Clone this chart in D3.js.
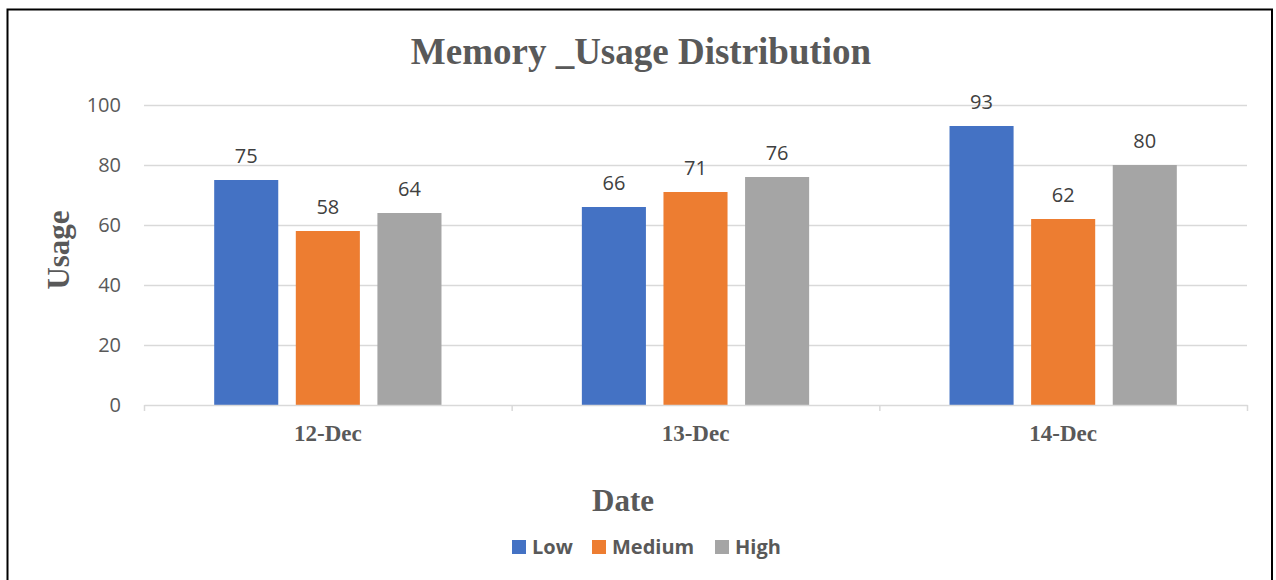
<!DOCTYPE html>
<html>
<head>
<meta charset="utf-8">
<script src="https://cdn.jsdelivr.net/npm/d3@7"></script>
<style>
  html, body { margin: 0; padding: 0; background: #fff; }
  svg { display: block; }
</style>
</head>
<body>
<svg id="chart" width="1276" height="580"></svg>
<script>
// Memory usage per day, split by level
const dates = ["12-Dec", "13-Dec", "14-Dec"];
const seriesNames = ["Low", "Medium", "High"];
const lowValues = [75, 66, 93];
const mediumValues = [58, 71, 62];
const highValues = [64, 76, 80];
const yTicks = [0, 20, 40, 60, 80, 100];
const colors = ["#4472C4", "#ED7D31", "#A5A5A5"];

const seriesValues = [lowValues, mediumValues, highValues];
const rows = dates.map((d, i) => ({
  date: d,
  values: seriesNames.map((s, j) => ({ key: s, value: seriesValues[j][i], color: colors[j] }))
}));

const svg = d3.select("#chart");

const sans = "'Open Sans', 'Liberation Sans', sans-serif";
const serif = "'Liberation Serif', 'Times New Roman', serif";
const textGrey = "#595959";

// outer frame
svg.append("rect").attr("x", 7.5).attr("y", 9.5).attr("width", 1264.5).attr("height", 600)
  .attr("fill", "#fff").attr("stroke", "#000").attr("stroke-width", 2);

const plot = { left: 144, right: 1247, top: 105, bottom: 405 };

const x = d3.scaleBand().domain(dates).range([plot.left, plot.right]);
const x1 = d3.scaleBand().domain(seriesNames).range([0, x.bandwidth()])
  .paddingInner(0.215).paddingOuter(0.86);
const y = d3.scaleLinear().domain([0, 100]).range([plot.bottom, plot.top]);

// gridlines
svg.append("g").selectAll("line").data(yTicks.filter(t => t > 0)).join("line")
  .attr("x1", plot.left).attr("x2", plot.right)
  .attr("y1", d => y(d) + 0.5).attr("y2", d => y(d) + 0.5)
  .attr("stroke", "#D9D9D9").attr("stroke-width", 1.3);

// y tick labels
svg.append("g").selectAll("text").data(yTicks).join("text")
  .attr("x", 121).attr("y", d => y(d) + 7)
  .attr("text-anchor", "end")
  .attr("font-family", sans)
  .attr("font-size", 20).attr("fill", textGrey)
  .text(d => d);

// bars
const groups = svg.append("g").selectAll("g").data(rows).join("g")
  .attr("transform", d => `translate(${x(d.date)},0)`);

groups.selectAll("rect").data(d => d.values).join("rect")
  .attr("x", d => x1(d.key))
  .attr("width", x1.bandwidth())
  .attr("y", d => y(d.value))
  .attr("height", d => y(0) - y(d.value))
  .attr("fill", d => d.color);

// data labels
groups.selectAll("text").data(d => d.values).join("text")
  .attr("x", d => x1(d.key) + x1.bandwidth() / 2)
  .attr("y", d => y(d.value) - 17)
  .attr("text-anchor", "middle")
  .attr("font-family", sans)
  .attr("font-size", 20).attr("fill", "#404040")
  .text(d => d.value);

// x axis line and ticks
const xAxis = svg.append("g").attr("transform", `translate(0,${plot.bottom})`)
  .call(d3.axisBottom(x).tickSize(0).tickFormat(""));
xAxis.select(".domain").attr("stroke", "#D9D9D9").attr("stroke-width", 1.5);
const tickXs = [plot.left, ...dates.map(d => x(d) + x.bandwidth())];
svg.append("g").selectAll("line").data(tickXs).join("line")
  .attr("x1", d => d + 0.5).attr("x2", d => d + 0.5)
  .attr("y1", plot.bottom).attr("y2", plot.bottom + 6)
  .attr("stroke", "#D9D9D9").attr("stroke-width", 1.5);

// category labels
svg.append("g").selectAll("text").data(dates).join("text")
  .attr("x", d => x(d) + x.bandwidth() / 2)
  .attr("y", 441)
  .attr("text-anchor", "middle")
  .attr("font-family", serif)
  .attr("font-weight", "bold").attr("font-size", 23).attr("fill", textGrey)
  .text(d => d);

// title
svg.append("text").attr("x", 641).attr("y", 64).attr("text-anchor", "middle")
  .attr("font-family", serif)
  .attr("font-weight", "bold").attr("font-size", 37).attr("fill", textGrey)
  .text("Memory _Usage Distribution");

// axis titles
svg.append("text").attr("transform", "translate(69,250) rotate(-90)")
  .attr("text-anchor", "middle")
  .attr("font-family", serif)
  .attr("font-weight", "bold").attr("font-size", 31).attr("fill", textGrey)
  .text("Usage");

svg.append("text").attr("x", 623).attr("y", 511).attr("text-anchor", "middle")
  .attr("font-family", serif)
  .attr("font-weight", "bold").attr("font-size", 31).attr("fill", textGrey)
  .text("Date");

// legend
const legendX = [512, 592, 715];
const legend = svg.append("g").selectAll("g").data(seriesNames).join("g")
  .attr("transform", (d, i) => `translate(${legendX[i]},540)`);
legend.append("rect").attr("width", 14).attr("height", 14).attr("fill", (d, i) => colors[i]);
legend.append("text").attr("x", 20).attr("y", 14)
  .attr("font-family", sans)
  .attr("font-weight", "bold").attr("font-size", 20).attr("fill", textGrey)
  .text(d => d);
</script>
</body>
</html>
